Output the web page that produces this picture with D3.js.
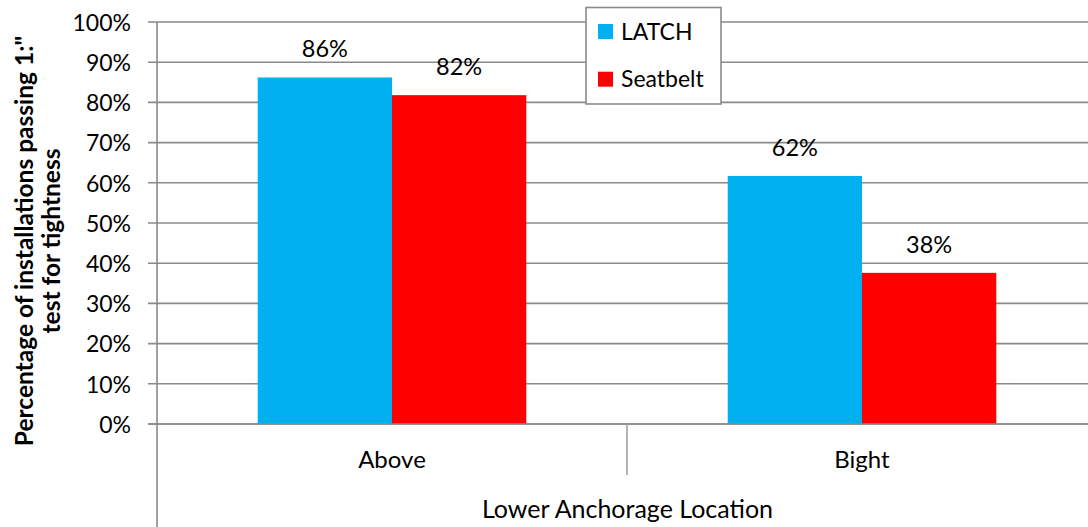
<!DOCTYPE html>
<html>
<head>
<meta charset="utf-8">
<script src="https://cdn.jsdelivr.net/npm/d3@7"></script>
<style>
  html, body { margin: 0; padding: 0; background: #fff; }
  svg { display: block; }
  text { font-family: Lato, "Open Sans", sans-serif; fill: #000; }
</style>
</head>
<body>
<svg id="chart" width="1088" height="527"></svg>
<script>
// ---- data ----
const categories = ["Above", "Bight"];
const seriesNames = ["LATCH", "Seatbelt"];
const latchValues = [0.862, 0.617];
const seatbeltValues = [0.818, 0.376];
const yTicks = [0, 0.1, 0.2, 0.3, 0.4, 0.5, 0.6, 0.7, 0.8, 0.9, 1.0];
const yTitleLines = ["Percentage of installations passing 1:\"", "test for tightness"];
const xTitle = "Lower Anchorage Location";

// ---- layout ----
const W = 1088, H = 527;
const plot = { left: 157, right: 1097, top: 22, bottom: 424 };
const colors = { LATCH: "#00B0F0", Seatbelt: "#FF0000" };
const gridColor = "#8a8a8a";
const fs = 23;

const seriesValues = { LATCH: latchValues, Seatbelt: seatbeltValues };
const rows = categories.map((c, i) => ({
  category: c,
  values: seriesNames.map(s => ({ series: s, value: seriesValues[s][i] }))
}));

const svg = d3.select("#chart");

const x0 = d3.scaleBand().domain(categories).range([plot.left, plot.right]).padding(0);
const x1 = d3.scaleBand().domain(seriesNames).range([0, x0.bandwidth()]).paddingInner(0).paddingOuter(0.75);
const y = d3.scaleLinear().domain([0, 1]).range([plot.bottom, plot.top]);

// gridlines
svg.append("g")
  .selectAll("line")
  .data(yTicks)
  .join("line")
  .attr("x1", plot.left - 9)
  .attr("x2", W)
  .attr("y1", d => y(d))
  .attr("y2", d => y(d))
  .attr("stroke", gridColor)
  .attr("stroke-width", 1.6);

// y axis tick labels
const yAxis = d3.axisLeft(y).tickValues(yTicks).tickFormat(d3.format(".0%")).tickSize(0).tickPadding(0);
const yAxisG = svg.append("g").attr("transform", `translate(${plot.left - 26},0)`).call(yAxis);
yAxisG.select(".domain").remove();
yAxisG.selectAll("text")
  .attr("font-size", fs)
  .attr("font-family", "Lato, sans-serif")
  .attr("fill", "#000")
  .attr("dy", "0.36em")
  .attr("dx", 0);

// bars
const groups = svg.append("g")
  .selectAll("g")
  .data(rows)
  .join("g")
  .attr("transform", d => `translate(${x0(d.category)},0)`);

groups.selectAll("rect")
  .data(d => d.values)
  .join("rect")
  .attr("x", d => x1(d.series))
  .attr("width", x1.bandwidth())
  .attr("y", d => y(d.value))
  .attr("height", d => y(0) - y(d.value))
  .attr("fill", d => colors[d.series]);

// data labels
groups.selectAll("text.lbl")
  .data(d => d.values)
  .join("text")
  .attr("class", "lbl")
  .attr("x", d => x1(d.series) + x1.bandwidth() / 2)
  .attr("y", d => y(d.value) - 20)
  .attr("text-anchor", "middle")
  .attr("font-size", fs + 0.5)
  .text(d => d3.format(".0%")(d.value));

// zero line on top of bars
svg.append("line")
  .attr("x1", plot.left - 9).attr("x2", W)
  .attr("y1", y(0)).attr("y2", y(0))
  .attr("stroke", gridColor).attr("stroke-width", 1.6);

// y axis line
svg.append("line")
  .attr("x1", plot.left).attr("x2", plot.left)
  .attr("y1", plot.top).attr("y2", H)
  .attr("stroke", gridColor).attr("stroke-width", 1.6);

// category divider ticks
svg.append("g")
  .selectAll("line")
  .data(categories.slice(1))
  .join("line")
  .attr("x1", d => x0(d)).attr("x2", d => x0(d))
  .attr("y1", y(0)).attr("y2", y(0) + 51)
  .attr("stroke", "#a0a0a0").attr("stroke-width", 1.6);

// x category labels
svg.append("g")
  .selectAll("text")
  .data(categories)
  .join("text")
  .attr("x", d => x0(d) + x0.bandwidth() / 2)
  .attr("y", 468)
  .attr("text-anchor", "middle")
  .attr("font-size", 24)
  .text(d => d);

// x axis title
svg.append("text")
  .attr("x", 627.5)
  .attr("y", 518)
  .attr("text-anchor", "middle")
  .attr("font-size", 25)
  .text(xTitle);

// y axis title
const yt = svg.append("text")
  .attr("transform", "translate(0,241) rotate(-90)")
  .attr("text-anchor", "middle")
  .attr("font-size", 24.5)
  .attr("font-weight", "bold");
yt.selectAll("tspan")
  .data(yTitleLines)
  .join("tspan")
  .attr("x", 0)
  .attr("y", (d, i) => 33 + i * 27)
  .text(d => d);

// legend
const legend = svg.append("g");
legend.append("rect")
  .attr("x", 586).attr("y", 7.5)
  .attr("width", 135).attr("height", 96.5)
  .attr("fill", "#fff")
  .attr("stroke", gridColor).attr("stroke-width", 1.6);
const li = legend.selectAll("g.item")
  .data(seriesNames)
  .join("g")
  .attr("class", "item")
  .attr("transform", (d, i) => `translate(598,${24 + i * 47.7})`);
li.append("rect")
  .attr("width", 15).attr("height", 15)
  .attr("fill", d => colors[d]);
li.append("text")
  .attr("x", 23).attr("y", 15.5)
  .attr("font-size", fs)
  .text(d => d);
</script>
</body>
</html>
